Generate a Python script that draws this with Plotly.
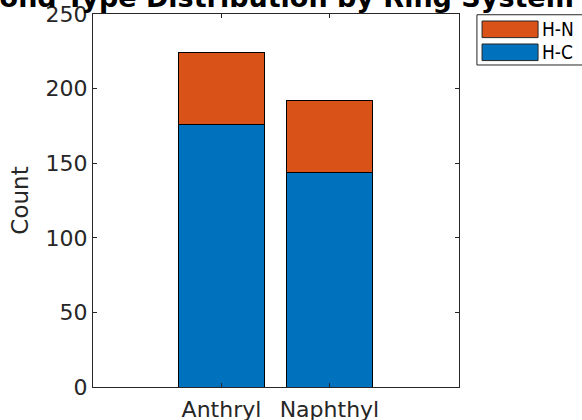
import plotly.graph_objects as go

# Bond counts per ring system, split by bond type
ring_systems = ["Anthryl", "Naphthyl"]
hc_counts = [176, 144]
hn_counts = [48, 48]
series_names = ["H-C", "H-N"]
series_colors = ["#0072BD", "#D95319"]
y_ticks = [0, 50, 100, 150, 200, 250]

positions = list(range(1, len(ring_systems) + 1))
axis_color = "rgb(38,38,38)"
font_family = "DejaVu Sans"
legend_font = "Liberation Sans Narrow, DejaVu Sans Condensed, DejaVu Sans"

fig = go.Figure()
for name, values, color in zip(series_names, [hc_counts, hn_counts], series_colors):
    fig.add_trace(go.Bar(
        x=positions, y=values, name=name, width=0.8,
        marker=dict(color=color, line=dict(color="black", width=1)),
        showlegend=False,
    ))

# Legend box with wide colour patches, last series on top
legend_items = list(zip(series_names, series_colors))[::-1]
fig.add_shape(type="rect", xref="paper", yref="paper",
              x0=1.049, x1=1.40, y0=0.8633, y1=0.998,
              line=dict(color=axis_color, width=1), fillcolor="white")
patch_tops = [0.9812, 0.9196]
for (name, color), top in zip(legend_items, patch_tops):
    fig.add_shape(type="rect", xref="paper", yref="paper",
                  x0=1.063, x1=1.216, y0=top - 0.0445, y1=top,
                  line=dict(color=axis_color, width=1), fillcolor=color)
    fig.add_annotation(x=1.222, y=top - 0.0222, xref="paper", yref="paper",
                       text=name, showarrow=False, xanchor="left", yanchor="middle",
                       font=dict(family=legend_font, size=19, color="black"))

fig.add_annotation(x=0.5, y=1.005, xref="paper", yref="paper", yshift=-3,
                   text="<b>Bond Type Distribution by Ring System</b>",
                   showarrow=False, xanchor="center", yanchor="bottom",
                   font=dict(family=font_family, size=27, color="black"))

fig.update_layout(
    width=582, height=420,
    margin=dict(l=93, r=123, t=14, b=33),
    barmode="stack",
    plot_bgcolor="white", paper_bgcolor="white",
    font=dict(family=font_family, color=axis_color),
)
fig.update_xaxes(
    range=[-0.19, 3.2], tickvals=positions, ticktext=ring_systems,
    showline=True, mirror="ticks", linecolor=axis_color, linewidth=1,
    ticks="inside", ticklen=4, tickcolor=axis_color,
    showgrid=False, zeroline=False, automargin=False,
    tickfont=dict(size=22, color=axis_color), ticklabelstandoff=3,
)
fig.update_yaxes(
    range=[0, 250], tickvals=y_ticks,
    showline=True, mirror="ticks", linecolor=axis_color, linewidth=1,
    ticks="inside", ticklen=4, tickcolor=axis_color,
    showgrid=False, zeroline=False, automargin=False,
    tickfont=dict(size=22, color=axis_color),
    title=dict(text="Count", font=dict(size=23, color=axis_color), standoff=10),
)

fig.write_html("out.html")
